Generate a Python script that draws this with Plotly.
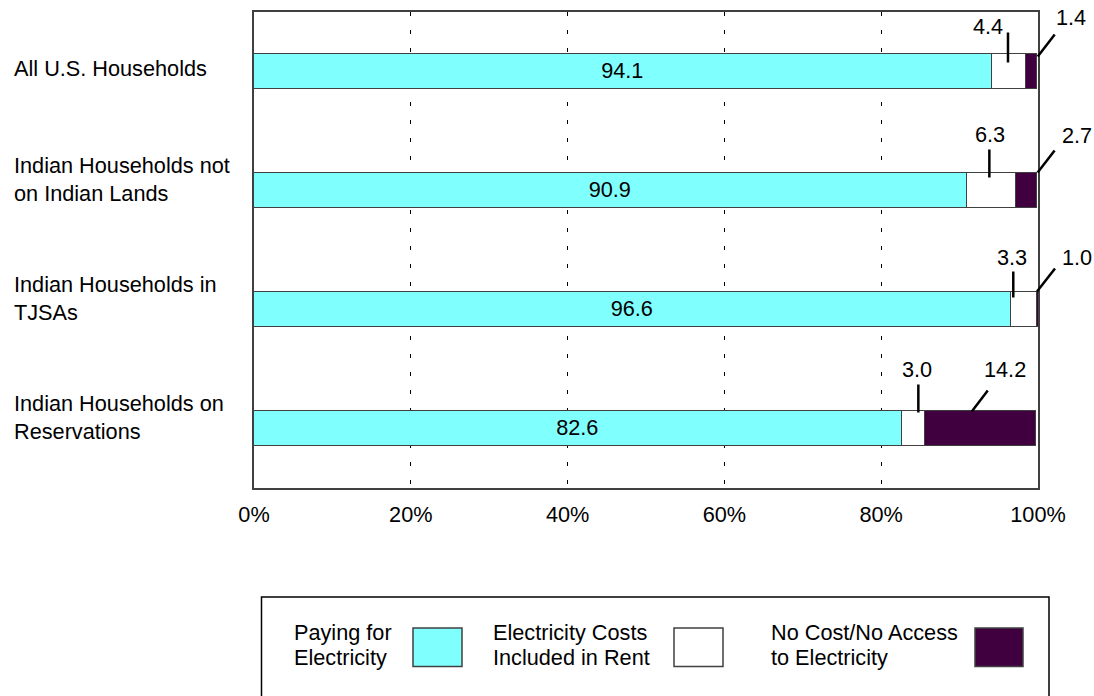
import plotly.graph_objects as go

categories = ["All U.S. Households",
              "Indian Households not<br>on Indian Lands",
              "Indian Households in<br>TJSAs",
              "Indian Households on<br>Reservations"]
paying = [94.1, 90.9, 96.6, 82.6]
in_rent = [4.4, 6.3, 3.3, 3.0]
no_cost = [1.4, 2.7, 1.0, 14.2]
series_names = ["Paying for<br>Electricity", "Electricity Costs<br>Included in Rent",
                "No Cost/No Access<br>to Electricity"]
x_ticks = [0, 20, 40, 60, 80, 100]
x_tick_labels = ["0%", "20%", "40%", "60%", "80%", "100%"]

CYAN = "#80FFFF"
WHITE = "#FFFFFF"
DARK = "#400040"
EDGE = "#404040"
FONT = "Liberation Sans, Arial, sans-serif"
FS = 21.7

W, H = 1094, 696
L, R, T, B = 254, 56, 12, 208
PW, PH = W - L - R, H - T - B
rows = list(range(len(categories)))
YMIN, YMAX = -0.5, len(categories) - 0.5

fig = go.Figure()
fig.add_trace(go.Bar(y=rows, x=paying, orientation="h", marker=dict(color=CYAN, line=dict(color=EDGE, width=1.5)),
                     width=0.30, text=[f"{v:.1f}" for v in paying], textposition="inside",
                     insidetextanchor="middle", textangle=0, constraintext="none",
                     textfont=dict(family=FONT, size=FS, color="black"), showlegend=False, hoverinfo="x"))
fig.add_trace(go.Bar(y=rows, x=in_rent, orientation="h", marker=dict(color=WHITE, line=dict(color=EDGE, width=1.5)),
                     width=0.30, showlegend=False, hoverinfo="x"))
fig.add_trace(go.Bar(y=rows, x=no_cost, orientation="h", marker=dict(color=DARK, line=dict(color=EDGE, width=1.5)),
                     width=0.30, showlegend=False, hoverinfo="x"))


def paper_x(xval, dpx):
    return xval / 100.0 + dpx / PW


def paper_y(row, dpx_screen):
    return (YMAX - row) / (YMAX - YMIN) - dpx_screen / PH


shapes = []
annotations = []

# leader-line styling offsets (pixels, screen coords: negative = up)
white_line_dx = [-1, -2, -11, 5]
white_line_y = [(-39, -9), (-41, -13), (-38, -12), (-44, -16)]
white_text_dx = [-21, -1, -12, 4]
white_text_dy = [-45, -56, -52, -59]

dark_start_dx = [6, 11, -1, -9]
dark_start_dy = [-15, -18, -18, -17]
dark_vec = [(17, -22), (17, -22), (18, -23), (16, -21)]
dark_text_from_end = [(16, -17), (22, -15), (22, -11), (17, -21)]

for i in rows:
    wc = paying[i] + in_rent[i] / 2.0
    dc = min(paying[i] + in_rent[i] + no_cost[i] / 2.0, 100.0)
    # white segment leader
    shapes.append(dict(type="line", xref="paper", yref="paper",
                       x0=paper_x(wc, white_line_dx[i]), x1=paper_x(wc, white_line_dx[i]),
                       y0=paper_y(i, white_line_y[i][0]), y1=paper_y(i, white_line_y[i][1]),
                       line=dict(color="black", width=2.5)))
    annotations.append(dict(x=paper_x(wc, white_text_dx[i]), y=paper_y(i, white_text_dy[i]),
                            xref="paper", yref="paper", text=f"{in_rent[i]:.1f}", showarrow=False,
                            xanchor="center", yanchor="middle",
                            font=dict(family=FONT, size=FS, color="black")))
    # dark segment leader
    sx, sy = dark_start_dx[i], dark_start_dy[i]
    ex, ey = sx + dark_vec[i][0], sy + dark_vec[i][1]
    shapes.append(dict(type="line", xref="paper", yref="paper",
                       x0=paper_x(dc, sx), x1=paper_x(dc, ex),
                       y0=paper_y(i, sy), y1=paper_y(i, ey),
                       line=dict(color="black", width=2.5)))
    tx, ty = ex + dark_text_from_end[i][0], ey + dark_text_from_end[i][1]
    annotations.append(dict(x=paper_x(dc, tx), y=paper_y(i, ty),
                            xref="paper", yref="paper", text=f"{no_cost[i]:.1f}", showarrow=False,
                            xanchor="center", yanchor="middle",
                            font=dict(family=FONT, size=FS, color="black")))
    # category label
    nlines = categories[i].count("<br>") + 1
    shift = -3 if nlines == 1 else -11
    annotations.append(dict(x=(12 - L) / PW, y=paper_y(i, shift), xref="paper", yref="paper",
                            text=categories[i], showarrow=False, xanchor="left", yanchor="middle",
                            align="left", font=dict(family=FONT, size=FS, color="black")))

# legend box
def px2px(xp):
    return (xp - L) / PW


def py2py(yp):
    return (T + PH - yp) / PH


shapes.append(dict(type="rect", xref="paper", yref="paper", x0=px2px(261.5), x1=px2px(1049),
                   y0=py2py(597), y1=py2py(730), line=dict(color="black", width=1.5), fillcolor="white",
                   layer="above"))
leg_text_x = [292, 491, 769]
leg_sw_x = [(413, 462), (674, 723), (975, 1023)]
leg_colors = [CYAN, WHITE, DARK]
for k in range(3):
    shapes.append(dict(type="rect", xref="paper", yref="paper", x0=px2px(leg_sw_x[k][0]), x1=px2px(leg_sw_x[k][1]),
                       y0=py2py(628), y1=py2py(666.5), line=dict(color=EDGE, width=1.5),
                       fillcolor=leg_colors[k], layer="above"))
    for j, line in enumerate(series_names[k].split("<br>")):
        annotations.append(dict(x=px2px(leg_text_x[k]), y=py2py(632 + 25 * j), xref="paper", yref="paper",
                                text=line, showarrow=False, xanchor="left", yanchor="middle",
                                font=dict(family=FONT, size=FS, color="black")))

fig.update_layout(
    width=W, height=H, margin=dict(l=L, r=R, t=T, b=B, autoexpand=False),
    barmode="stack", bargap=0, plot_bgcolor="white", paper_bgcolor="white",
    font=dict(family=FONT, size=FS, color="black"),
    shapes=shapes, annotations=annotations, showlegend=False,
    xaxis=dict(range=[0, 100], tickvals=x_ticks, ticktext=x_tick_labels, showgrid=True,
               gridcolor="black", gridwidth=1, griddash="4px,14px", zeroline=False,
               showline=True, mirror=True, linecolor=EDGE, linewidth=1.5,
               ticks="outside", ticklen=6, tickcolor="rgba(0,0,0,0)",
               tickfont=dict(family=FONT, size=FS, color="black"), fixedrange=True),
    yaxis=dict(range=[YMAX, YMIN], showticklabels=False, showgrid=False, zeroline=False,
               showline=True, mirror=True, linecolor=EDGE, linewidth=1.5, ticks="", fixedrange=True),
)

fig.write_html("out.html", config={"displayModeBar": False},
               post_script="document.body.style.margin='0';document.body.style.overflow='hidden';")
